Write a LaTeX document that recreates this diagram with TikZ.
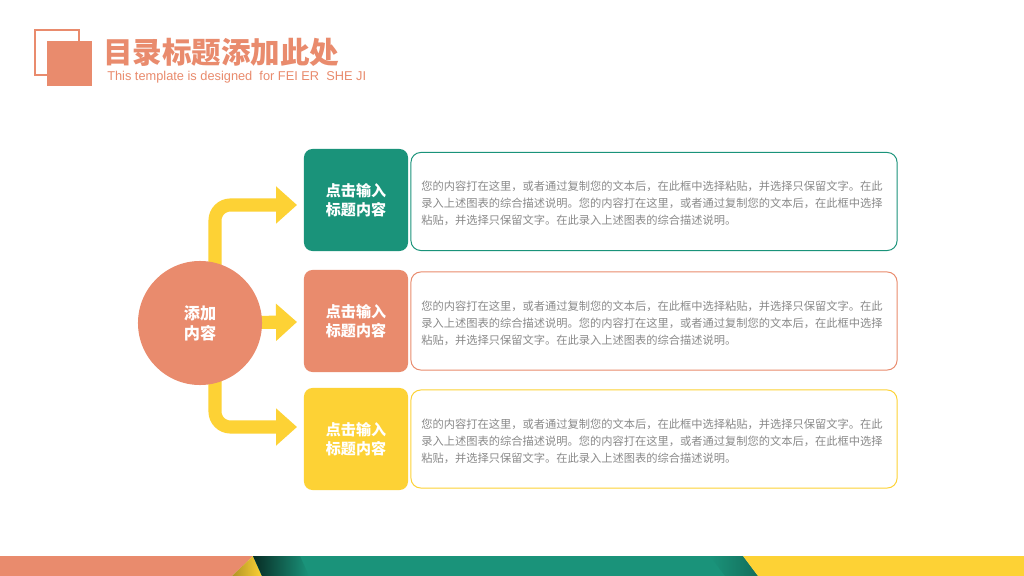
\documentclass[tikz,border=0pt]{standalone}
\usepackage{fontspec}
\setmainfont{Liberation Sans}
\newfontfamily\cjk{Noto Sans CJK SC}
\usetikzlibrary{arrows.meta,backgrounds,calc}
\definecolor{salmon}{HTML}{E98B6D}
\definecolor{tgreen}{HTML}{1A937A}
\definecolor{tyellow}{HTML}{FDD235}
\definecolor{txtgray}{HTML}{8A8A8A}
\begin{document}
\begin{tikzpicture}[x=0.025cm,y=-0.025cm,
  label/.style={font=\cjk\bfseries\fontsize{10.7pt}{13.5pt}\selectfont,text=white,align=center},
  cbox/.style={rounded corners=6pt,minimum width=2.6cm,minimum height=2.55cm,inner sep=0pt},
  tbox/.style={draw,line width=0.7pt,rounded corners=7pt,fill=white,minimum width=12.15cm,minimum height=2.45cm,inner sep=0pt},
  body/.style={font=\cjk\fontsize{8pt}{12.1pt}\selectfont,text=txtgray,align=left,anchor=west,inner sep=0pt},
  arr/.style={draw=tyellow,line width=9.3pt,rounded corners=11pt,-{Triangle[width=25.6pt,length=14.9pt]}}
]
\useasboundingbox (0,0) rectangle (1024,576);
% logo
\draw[salmon,line width=1.4pt] (35,30) rectangle (79,75);
\fill[salmon] (47,41) rectangle (92,86);
\node[anchor=west,inner sep=0pt,text=salmon,font=\cjk\bfseries\fontsize{21pt}{24pt}\selectfont] (title) at (103,52) {目录标题添加此处};
\node[anchor=west,inner sep=0pt,text=salmon,font=\fontsize{9.1pt}{11pt}\selectfont] (sub) at (107,77) {This template is designed\ \ for FEI ER\ \ SHE JI};
% central circle
\node[circle,fill=salmon,minimum size=3.1cm,inner sep=0pt,font=\cjk\bfseries\fontsize{11.5pt}{14.3pt}\selectfont,text=white,align=center] (c) at (200,323) {添加\\内容};
% colored boxes
\node[cbox,fill=tgreen,label] (b1) at (356,200) {点击输入\\标题内容};
\node[cbox,fill=salmon,label] (b2) at (356,321) {点击输入\\标题内容};
\node[cbox,fill=tyellow,label] (b3) at (356,439) {点击输入\\标题内容};
% text boxes
\node[tbox,draw=tgreen] (t1) at (654,201.5) {};
\node[tbox,draw=salmon] (t2) at (654,321) {};
\node[tbox,draw=tyellow] (t3) at (654,439) {};
\foreach \t/\yy in {t1/186,t2/306,t3/424}{
  \node[body] at (421,\yy) {您的内容打在这里，或者通过复制您的文本后，在此框中选择粘贴，并选择只保留文字。在此};
  \node[body] at (421,\yy+17) {录入上述图表的综合描述说明。您的内容打在这里，或者通过复制您的文本后，在此框中选择};
  \node[body] at (421,\yy+34) {粘贴，并选择只保留文字。在此录入上述图表的综合描述说明。};
}
% arrows
\coordinate (a1) at (297,205);
\coordinate (a2) at (297,322);
\coordinate (a3) at (297,427);
\begin{scope}[on background layer]
\fill[white] (0,0) rectangle (1024,576);
\draw[arr] ($(c.center)+(15,0)$) |- (a1);
\draw[arr] (c.center) -- (a2);
\draw[arr] ($(c.center)+(15,0)$) |- (a3);
\end{scope}
% bottom band
\fill[salmon] (0,556) -- (253,556) -- (232,576) -- (0,576) -- cycle;
\shade[left color=tyellow!70!black,right color=tyellow] (253,556) -- (232,576) -- (262,576) -- cycle;
\fill[tgreen] (253,556) -- (743,556) -- (758,576) -- (262,576) -- cycle;
\shade[left color=tgreen!30!black,right color=tgreen] (253,556) -- (300,556) -- (309,576) -- (262,576) -- cycle;
\shade[left color=tgreen,right color=tgreen!75!black] (710,556) -- (743,556) -- (758,576) -- (725,576) -- cycle;
\fill[tyellow] (743,556) -- (1024,556) -- (1024,576) -- (758,576) -- cycle;
\end{tikzpicture}
\end{document}
